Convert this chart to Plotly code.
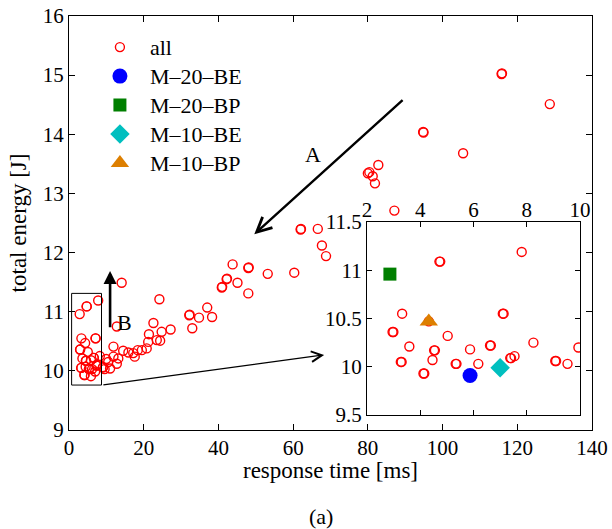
import plotly.graph_objects as go

# main scatter: points outside the zoom box (response time [ms], total energy [J])
main_x = [10.5, 11.0, 11.9, 11.9, 12.8, 12.8, 13.2, 14.1, 14.5, 15.9, 17.2, 17.6, 18.4, 19.5,
          20.8, 21.2, 21.4, 22.6, 23.5, 24.4, 24.8, 24.2, 27.2, 32.2, 32.3, 33.0, 34.8, 37.0,
          38.3, 40.9, 41.0, 42.2, 42.3, 43.8, 45.1, 48.0, 48.1, 48.0, 53.2, 60.3, 62.0, 62.1,
          66.6, 67.7, 68.8, 80.0, 80.4, 81.3, 81.9, 82.8, 87.1, 94.8, 94.9, 105.5, 115.8,
          115.9, 128.7]
main_y = [10.15, 10.04, 10.24, 10.41, 10.12, 10.75, 10.21, 11.49, 10.34, 10.31, 10.30, 10.24,
          10.35, 10.35, 10.38, 10.49, 10.62, 10.81, 10.52, 10.51, 10.66, 11.21, 10.70, 10.94,
          10.95, 10.72, 10.90, 11.07, 10.91, 11.41, 11.42, 11.55, 11.56, 11.80, 11.49, 11.74,
          11.75, 11.31, 11.64, 11.66, 12.39, 12.40, 12.40, 12.12, 11.94, 13.34, 13.36, 13.29,
          13.17, 13.48, 12.71, 14.04, 14.03, 13.68, 15.02, 15.03, 14.51]

# points inside the zoom box (shown in the inset)
zoom_x = [4.72, 4.75, 7.81, 3.32, 7.10, 7.13, 2.96, 2.99, 5.03, 3.59, 4.52, 4.55, 5.87, 6.62,
          6.65, 8.25, 9.94, 3.27, 3.30, 4.46, 5.33, 5.36, 6.18, 7.38, 7.41, 7.54, 9.07, 9.10,
          9.53, 4.12, 4.15]
zoom_y = [11.09, 11.09, 11.19, 10.55, 10.55, 10.55, 10.36, 10.36, 10.32, 10.21, 10.17, 10.17,
          10.18, 10.22, 10.22, 10.25, 10.20, 10.05, 10.05, 10.07, 10.03, 10.03, 10.03, 10.09,
          10.09, 10.11, 10.06, 10.06, 10.03, 9.93, 9.93]

# highlighted configurations
configs = ["M\u201320\u2013BE", "M\u201320\u2013BP", "M\u201310\u2013BE", "M\u201310\u2013BP"]
config_x = [5.87, 2.86, 7.00, 4.32]
config_y = [9.91, 10.96, 9.99, 10.47]
config_symbols = ["circle", "square", "diamond", "triangle-up"]
config_colors = ["#0000ff", "#007f00", "#00bfbf", "#dd7f00"]
config_sizes = [15, 13, 15, 16]

FONT = "Liberation Serif"

all_x = main_x + zoom_x + config_x
all_y = main_y + zoom_y + config_y

red_marker = dict(symbol="circle-open", size=9, color="#ff0000", line=dict(width=1.4, color="#ff0000"))


def legend_label(s):
    # slightly bigger text than the legend font, which sets the row spacing
    return "<span style='font-size:22px'>" + s + "</span>"


fig = go.Figure()

fig.add_trace(go.Scatter(x=all_x, y=all_y, mode="markers", name=legend_label("all"),
                         marker=red_marker, xaxis="x", yaxis="y"))

# inset: red points underneath, highlighted ones on top
fig.add_trace(go.Scatter(x=zoom_x + config_x, y=zoom_y + config_y, mode="markers",
                         marker=red_marker, showlegend=False, xaxis="x2", yaxis="y2"))
for name, cx, cy, sym, col, sz in zip(configs, config_x, config_y, config_symbols,
                                      config_colors, config_sizes):
    fig.add_trace(go.Scatter(x=[cx], y=[cy], mode="markers", name=legend_label(name),
                             marker=dict(symbol=sym, size=sz, color=col, line=dict(width=0)),
                             xaxis="x2", yaxis="y2"))

axis_common = dict(showline=True, linecolor="black", mirror="ticks", ticks="inside",
                   tickcolor="black", showgrid=False, zeroline=False, automargin=False,
                   ticklabeloverflow="allow",
                   tickfont=dict(family=FONT, size=21, color="black"))

fig.update_layout(
    width=612, height=529,
    margin=dict(l=69, r=20, t=16, b=99),
    paper_bgcolor="white", plot_bgcolor="white",
    font=dict(family=FONT, size=22, color="black"),
    xaxis=dict(range=[0, 140], dtick=20, ticklen=6, linewidth=1.3, tickwidth=1.2,
               ticklabelstandoff=-1, domain=[0, 1], **axis_common),
    yaxis=dict(range=[9, 16], dtick=1, ticklen=6, linewidth=1.3, tickwidth=1.2,
               title=dict(text="total energy [J]", font=dict(family=FONT, size=23), standoff=9),
               domain=[0, 1], **axis_common),
    xaxis2=dict(range=[2, 10], dtick=2, side="top", anchor="y2", ticklen=5, linewidth=1,
                tickwidth=1, ticklabelstandoff=-4, domain=[0.5698, 0.9771], **axis_common),
    yaxis2=dict(range=[9.5, 11.5], dtick=0.5, anchor="x2", ticklen=5, linewidth=1,
                tickwidth=1, domain=[0.0362, 0.5024], **axis_common),
    legend=dict(x=0.04, y=0.972, xanchor="left", yanchor="top", bgcolor="rgba(0,0,0,0)",
                itemwidth=50, font=dict(family=FONT, size=20)),
    shapes=[dict(type="rect", xref="x", yref="y", x0=0.7, x1=8.7, y0=9.76, y1=11.31,
                 line=dict(color="black", width=1))],
    annotations=[
        dict(x=49.6, y=12.31, ax=89.7, ay=14.6, xref="x", yref="y", axref="x", ayref="y",
             showarrow=True, arrowhead=5, arrowsize=1.2, arrowwidth=2.4, arrowcolor="black", text=""),
        dict(x=11.0, y=11.69, ax=11.0, ay=10.71, xref="x", yref="y", axref="x", ayref="y",
             showarrow=True, arrowhead=2, arrowsize=1, arrowwidth=2.6, arrowcolor="black", text=""),
        dict(x=68.3, y=10.27, ax=8.8, ay=9.76, xref="x", yref="y", axref="x", ayref="y",
             showarrow=True, arrowhead=5, arrowsize=1.6, arrowwidth=1.3, arrowcolor="black", text=""),
        dict(x=65.2, y=13.65, xref="x", yref="y", text="A", showarrow=False,
             font=dict(family=FONT, size=22)),
        dict(x=14.8, y=10.81, xref="x", yref="y", text="B", showarrow=False,
             font=dict(family=FONT, size=22)),
        # x axis title, placed a bit closer than plotly's title allows
        dict(x=0.5, y=-0.099, xref="paper", yref="paper", text="response time [ms]",
             showarrow=False, xanchor="center", yanchor="middle", font=dict(family=FONT, size=23)),
        dict(x=0.482, y=-0.208, xref="paper", yref="paper", text="(a)", showarrow=False,
             xanchor="center", yanchor="middle", font=dict(family=FONT, size=22)),
    ],
)

# drop the browser's default 8px body margin so the figure fills the window
fig.write_html("out.html", config={"displayModeBar": False},
               post_script="document.body.style.margin = '0';")
